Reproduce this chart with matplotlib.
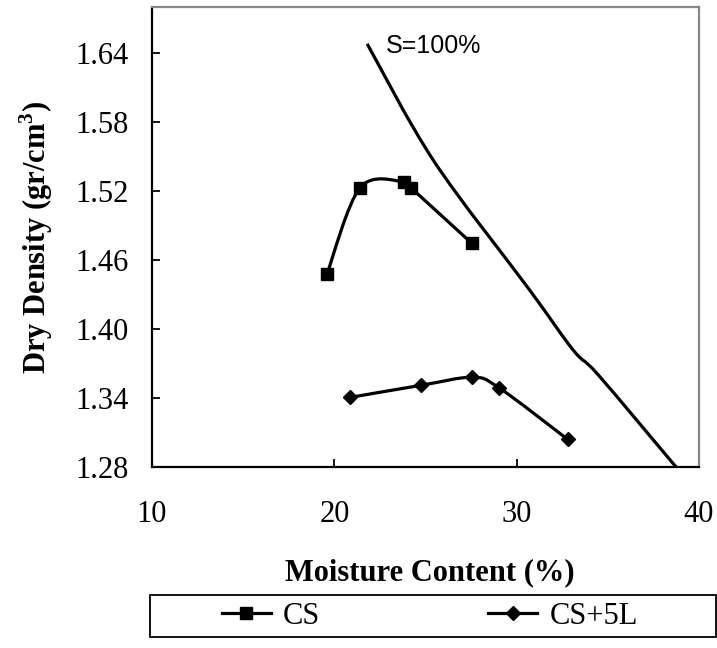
import matplotlib
matplotlib.use("Agg")
import matplotlib.pyplot as plt
from matplotlib.path import Path
from matplotlib.patches import PathPatch, Rectangle
from matplotlib.lines import Line2D
import numpy as np

plt.rcParams['font.family'] = ['Liberation Serif', 'DejaVu Serif']
plt.rcParams['mathtext.fontset'] = 'custom'
plt.rcParams['mathtext.rm'] = 'Liberation Serif'
plt.rcParams['mathtext.bf'] = 'Liberation Serif:bold'

FS = 22

# moisture content (%) / dry density (gr/cm3)
cs_w = [19.6, 21.42, 23.83, 24.19, 27.54]
cs_d = [1.448, 1.523, 1.528, 1.523, 1.4745]

cs5l_w = [20.86, 24.74, 27.56, 29.02, 32.80]
cs5l_d = [1.3405, 1.351, 1.358, 1.349, 1.304]

# zero air voids line (S=100%)
sat_w = [21.8, 25.46, 30.66, 33.11, 34.48, 38.74]
sat_d = [1.648, 1.546, 1.435, 1.3815, 1.360, 1.280]

xticks = [10, 20, 30, 40]
yticks = [1.28, 1.34, 1.40, 1.46, 1.52, 1.58, 1.64]


def smooth_path(xs, ys):
    # Bezier through the points, spreadsheet-style smoothing
    p = np.column_stack([xs, ys])
    n = len(p)
    verts = [p[0]]
    codes = [Path.MOVETO]
    for i in range(n - 1):
        prev = p[i - 1] if i > 0 else p[i]
        nxt = p[i + 2] if i + 2 < n else p[i + 1]
        c1 = p[i] + (p[i + 1] - prev) / 6.0
        c2 = p[i + 1] - (nxt - p[i]) / 6.0
        verts += [c1, c2, p[i + 1]]
        codes += [Path.CURVE4] * 3
    return Path(verts, codes)


fig = plt.figure(figsize=(7.17, 6.48), dpi=100)
ax = fig.add_axes([152 / 717, 1 - 467 / 648, 547 / 717, 460 / 648])

for xs, ys in [(cs_w, cs_d), (cs5l_w, cs5l_d), (sat_w, sat_d)]:
    ax.add_patch(PathPatch(smooth_path(xs, ys), facecolor='none',
                           edgecolor='black', lw=2.3, capstyle='butt'))

ax.plot(cs_w, cs_d, ls='none', marker='s', ms=8, color='black')
ax.plot(cs5l_w, cs5l_d, ls='none', marker='D', ms=7.5, color='black')

ax.text(22.84, 1.646, 'S=100%', family='Liberation Sans', fontsize=18,
        ha='left', va='center')

ax.set_xlim(10, 40)
ax.set_ylim(1.28, 1.68)
ax.set_xticks(xticks)
ax.set_xticklabels([str(t) for t in xticks])
ax.set_yticks(yticks)
ax.set_yticklabels(['%.2f' % t for t in yticks])
ax.tick_params(axis='x', direction='in', length=6, width=1.3, labelsize=FS, pad=24)
ax.tick_params(axis='y', direction='in', length=6, width=1.3, labelsize=FS, pad=17)

for side in ['left', 'bottom']:
    ax.spines[side].set_color('black')
    ax.spines[side].set_linewidth(1.6)
for side in ['top', 'right']:
    ax.spines[side].set_color('#888888')
    ax.spines[side].set_linewidth(1.6)

fig.text(430 / 717, 1 - 573 / 648, 'Moisture Content (%)', fontsize=FS,
         fontweight='bold', ha='center', va='center')
fig.text(36 / 717, 1 - 237 / 648, r'Dry Density (gr/cm$^\mathbf{3}$)',
         fontsize=FS, fontweight='bold', rotation=90, ha='center', va='center')

# legend frame below the plot
fig.patches.append(Rectangle((150 / 717, 1 - 637 / 648), 566 / 717, 42 / 648,
                             transform=fig.transFigure, fill=False,
                             edgecolor='black', lw=1.3))
handles = [Line2D([], [], color='black', lw=2.3, marker='s', ms=8),
           Line2D([], [], color='black', lw=2.3, marker='D', ms=7.5)]
fig.legend(handles, ['CS', 'CS+5L'], loc='center',
           bbox_to_anchor=(430 / 717, 1 - 616 / 648), ncol=2, frameon=False,
           fontsize=FS, handlelength=1.6, handletextpad=0.4,
           columnspacing=5.5, borderpad=0)

fig.savefig('out.png', dpi=100)
